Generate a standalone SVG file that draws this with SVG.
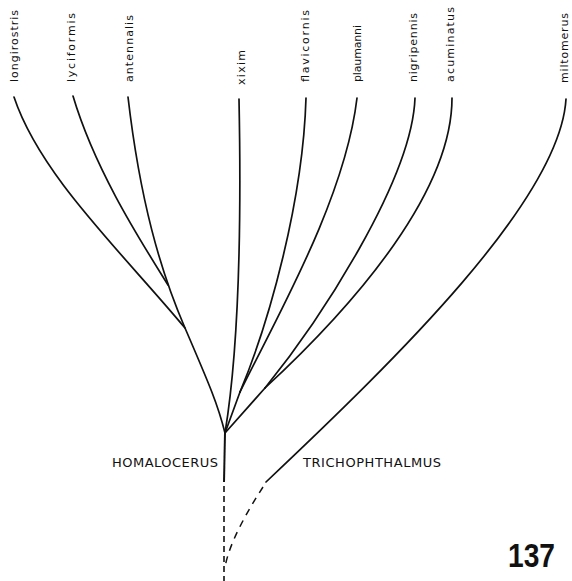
<svg xmlns="http://www.w3.org/2000/svg" width="572" height="581" viewBox="0 0 572 581">
<style>
.lbl{font-family:"DejaVu Sans","Liberation Sans",sans-serif;font-size:11px;fill:#111}
.gen{font-family:"DejaVu Sans","Liberation Sans",sans-serif;font-size:13px;fill:#111}
.num{font-family:"Liberation Sans","DejaVu Sans",sans-serif;font-size:33px;font-weight:bold;fill:#111}
.br{fill:none;stroke:#111;stroke-width:1.7;stroke-linecap:round}
.trunk{fill:none;stroke:#111;stroke-width:2}
.dash{fill:none;stroke:#111;stroke-width:1.6;stroke-dasharray:6 4}
.dash2{fill:none;stroke:#111;stroke-width:1.5;stroke-dasharray:7 6}
</style>
<rect width="572" height="581" fill="#fff"/>
<g id="labels">
<g id="n-longirostris"><text class="lbl" transform="translate(18,82) rotate(-90)" textLength="72" lengthAdjust="spacing">longirostris</text></g>
<g id="n-lyciformis"><text class="lbl" transform="translate(75,82) rotate(-90)" textLength="69" lengthAdjust="spacing">lyciformis</text></g>
<g id="n-antennalis"><text class="lbl" transform="translate(133,82) rotate(-90)" textLength="67" lengthAdjust="spacing">antennalis</text></g>
<g id="n-xixim"><text class="lbl" transform="translate(245,85) rotate(-90)" textLength="35" lengthAdjust="spacing">xixim</text></g>
<g id="n-flavicornis"><text class="lbl" transform="translate(309,82) rotate(-90)" textLength="72" lengthAdjust="spacing">flavicornis</text></g>
<g id="n-plaumanni"><text class="lbl" transform="translate(361,82) rotate(-90)" textLength="57" lengthAdjust="spacing">plaumanni</text></g>
<g id="n-nigripennis"><text class="lbl" transform="translate(417,82) rotate(-90)" textLength="69" lengthAdjust="spacing">nigripennis</text></g>
<g id="n-acuminatus"><text class="lbl" transform="translate(454,82) rotate(-90)" textLength="75" lengthAdjust="spacing">acuminatus</text></g>
<g id="n-miltomerus"><text class="lbl" transform="translate(568,83) rotate(-90)" textLength="70" lengthAdjust="spacing">miltomerus</text></g>
</g>
<g id="n-homalocerus"><text class="gen" x="218" y="467" text-anchor="end" textLength="106" lengthAdjust="spacing">HOMALOCERUS</text></g>
<g id="n-trichophthalmus"><text class="gen" x="303" y="467" textLength="138" lengthAdjust="spacing">TRICHOPHTHALMUS</text></g>
<g id="n-137"><text class="num" x="508" y="567" textLength="47" lengthAdjust="spacingAndGlyphs">137</text></g>
<g id="connectors">
<path class="br" d="M14,97 C40,175 120,250 185,328"/>
<path class="br" d="M73,96 C95,170 140,240 168,285"/>
<path class="br" d="M128,97 C140,200 160,270 185,328 S218,405 225,433"/>
<path class="br" d="M239,99 C242,250 237,360 225,433"/>
<path class="br" d="M306,98 C303,200 270,320 240,392"/>
<path class="br" d="M357,98 C345,200 275,320 240,392"/>
<path class="br" d="M240,392 L225,433"/>
<path class="br" d="M415,98 C412,180 320,320 265,388"/>
<path class="br" d="M452,98 C452,190 360,300 265,388"/>
<path class="br" d="M265,388 L225,433"/>
<path class="br" d="M566,99 C560,200 395,360 266,482"/>
<path class="trunk" d="M225,433 L224,482"/>
<path class="dash" d="M224,486 L224,581"/>
<path class="dash2" d="M263,487 C248,510 228,545 225,568"/>
</g>
</svg>
